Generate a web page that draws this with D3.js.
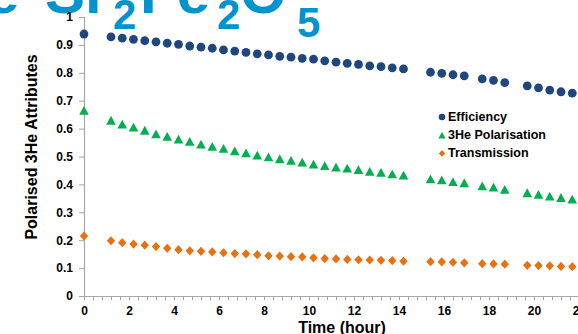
<!DOCTYPE html>
<html>
<head>
<meta charset="utf-8">
<script src="https://cdn.jsdelivr.net/npm/d3@7"></script>
<style>
  html, body { margin: 0; padding: 0; background: #fff; overflow: hidden; }
  svg { display: block; font-family: Arial, "Liberation Sans", sans-serif; }
</style>
</head>
<body>
<svg id="chart" width="578" height="334"></svg>
<script>
// Measurement times (hours)
const hours = [0, 1.2, 1.7, 2.2, 2.7, 3.2, 3.7, 4.2, 4.7, 5.2, 5.7, 6.2, 6.7, 7.2, 7.7,
  8.2, 8.7, 9.2, 9.7, 10.2, 10.7, 11.2, 11.7, 12.2, 12.7, 13.2, 13.7, 14.2,
  15.4, 15.9, 16.4, 16.9, 17.7, 18.2, 18.7, 19.7, 20.2, 20.7, 21.2, 21.7];

const efficiency = [0.939, 0.929, 0.924, 0.920, 0.915, 0.911, 0.906, 0.902, 0.896, 0.892,
  0.888, 0.882, 0.878, 0.873, 0.868, 0.864, 0.859, 0.856, 0.852, 0.849, 0.843,
  0.838, 0.834, 0.830, 0.825, 0.822, 0.818, 0.814,
  0.802, 0.798, 0.793, 0.789, 0.778, 0.773, 0.765, 0.753, 0.746, 0.738, 0.732, 0.727];

const polarisation = [0.665, 0.630, 0.616, 0.605, 0.594, 0.581, 0.572, 0.562, 0.554, 0.544,
  0.536, 0.529, 0.520, 0.513, 0.505, 0.499, 0.492, 0.486, 0.480, 0.473, 0.467,
  0.462, 0.458, 0.453, 0.447, 0.443, 0.438, 0.433,
  0.420, 0.416, 0.410, 0.406, 0.395, 0.390, 0.382, 0.370, 0.364, 0.358, 0.353, 0.347];

const transmission = [0.215, 0.198, 0.191, 0.186, 0.182, 0.177, 0.171, 0.166, 0.162, 0.160,
  0.158, 0.155, 0.152, 0.151, 0.148, 0.144, 0.143, 0.141, 0.140, 0.137, 0.134,
  0.133, 0.131, 0.130, 0.129, 0.128, 0.127, 0.125,
  0.123, 0.122, 0.121, 0.119, 0.116, 0.115, 0.114, 0.110, 0.109, 0.108, 0.106, 0.105];

const seriesNames = ["Efficiency", "3He Polarisation", "Transmission"];
const seriesColors = ["#1F477E", "#00B050", "#E8700F"];
const seriesShapes = ["circle", "triangle", "diamond"];
const yTicks = [0, 0.1, 0.2, 0.3, 0.4, 0.5, 0.6, 0.7, 0.8, 0.9, 1];
const xLabelTicks = [0, 2, 4, 6, 8, 10, 12, 14, 16, 18, 20, 22];

const svg = d3.select("#chart");

const x = d3.scaleLinear().domain([0, 22]).range([84, 579]);
const y = d3.scaleLinear().domain([0, 1]).range([296, 17]);

// Heading in the slide, largely above the visible area
const head = svg.append("text")
  .attr("fill", "#0093CE")
  .attr("font-weight", "bold");
const headParts = [
  { t: "e", x: -14, y: 13, s: 60 },
  { t: "Sr", x: 45, y: 13, s: 60 },
  { t: "2", x: 113, y: 29, s: 42 },
  { t: "Fe", x: 140, y: 13, s: 60 },
  { t: "2", x: 217, y: 29, s: 42 },
  { t: "O", x: 240, y: 13, s: 60 },
  { t: "5", x: 297, y: 37, s: 42 }
];
headParts.forEach(p => {
  head.append("tspan").attr("x", p.x).attr("y", p.y)
    .attr("font-size", p.s).text(p.t);
});

// Y axis
const yAxis = d3.axisLeft(y).tickValues(yTicks)
  .tickFormat(d => d3.format("~g")(d)).tickSize(5).tickPadding(6);
const gy = svg.append("g").attr("transform", `translate(${x(0)},0)`).call(yAxis);
gy.select(".domain").attr("stroke", "#A6A6A6").attr("stroke-width", 1.2);
gy.selectAll(".tick line").attr("stroke", "#A6A6A6");
gy.selectAll(".tick text").attr("font-size", 12).attr("font-weight", "bold")
  .attr("fill", "#000").attr("font-family", "Arial, 'Liberation Sans', sans-serif");

// X axis: minor ticks every 0.4 h, labels every 2 h
const minorTicks = d3.range(0, 23.2, 0.4);
const xAxisMinor = d3.axisBottom(x).tickValues(minorTicks).tickSize(4).tickFormat("");
const gxm = svg.append("g").attr("transform", `translate(0,${y(0)})`).call(xAxisMinor);
gxm.select(".domain").attr("stroke", "#A6A6A6").attr("stroke-width", 1.2);
gxm.selectAll(".tick line").attr("stroke", "#A6A6A6");

const xAxis = d3.axisBottom(x).tickValues(xLabelTicks).tickSize(0).tickPadding(10);
const gx = svg.append("g").attr("transform", `translate(0,${y(0)})`).call(xAxis);
gx.select(".domain").remove();
gx.selectAll(".tick text").attr("font-size", 12).attr("font-weight", "bold")
  .attr("fill", "#000").attr("font-family", "Arial, 'Liberation Sans', sans-serif");

// Axis titles
svg.append("text")
  .attr("transform", "translate(31,147) rotate(-90)")
  .attr("text-anchor", "middle").attr("dominant-baseline", "central")
  .attr("font-size", 16).attr("font-weight", "bold").attr("fill", "#000")
  .text("Polarised 3He Attributes");

svg.append("text")
  .attr("x", 342).attr("y", 333)
  .attr("text-anchor", "middle")
  .attr("font-size", 16).attr("font-weight", "bold").attr("fill", "#000")
  .text("Time (hour)");

// Marker paths
function markerPath(shape, k) {
  if (shape === "circle") {
    const r = 4.4 * k;
    return `M${-r},0A${r},${r} 0 1,0 ${r},0A${r},${r} 0 1,0 ${-r},0Z`;
  }
  if (shape === "triangle") {
    const w = 4.8 * k, h = 4.4 * k;
    return `M0,${-h}L${w},${h}L${-w},${h}Z`;
  }
  const w = 4.2 * k, h = 4.6 * k;
  return `M0,${-h}L${w},0L0,${h}L${-w},0Z`;
}

const allSeries = [efficiency, polarisation, transmission];
allSeries.forEach((vals, i) => {
  svg.append("g").selectAll("path")
    .data(hours.map((h, j) => ({ h, v: vals[j] })))
    .join("path")
    .attr("transform", d => `translate(${x(d.h)},${y(d.v)})`)
    .attr("d", markerPath(seriesShapes[i], 1))
    .attr("fill", seriesColors[i]);
});

// Legend
const legend = svg.append("g");
seriesNames.forEach((name, i) => {
  const ly = 117 + i * 18.2;
  legend.append("path")
    .attr("transform", `translate(442,${ly})`)
    .attr("d", markerPath(seriesShapes[i], 0.75))
    .attr("fill", seriesColors[i]);
  legend.append("text")
    .attr("x", 448).attr("y", ly).attr("dominant-baseline", "central")
    .attr("font-size", 12.5).attr("font-weight", "bold").attr("fill", "#000")
    .text(name);
});
</script>
</body>
</html>
